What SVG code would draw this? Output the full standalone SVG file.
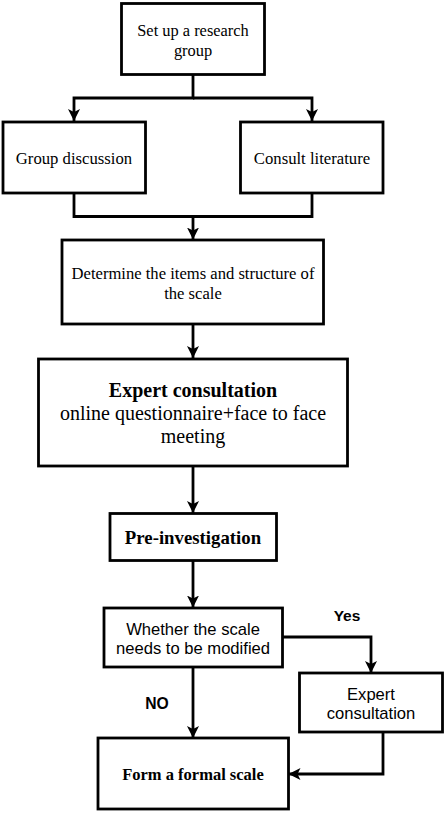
<svg xmlns="http://www.w3.org/2000/svg" width="447" height="813" viewBox="0 0 447 813">
<style>
.box{fill:#fff;stroke:#000;stroke-width:2.8}
.ln{fill:none;stroke:#000;stroke-width:2.8}
.serif{font-family:"Liberation Serif","Times New Roman",serif;fill:#000;text-anchor:middle}
.sans{font-family:"Liberation Sans",Arial,sans-serif;fill:#000;text-anchor:middle}
</style>
<defs>
<marker id="arr" viewBox="0 0 12 12" refX="12" refY="6" markerWidth="12" markerHeight="12" markerUnits="userSpaceOnUse" orient="auto">
<path d="M0,0 L12,6 L0,12 L3,6 Z" fill="#000"/>
</marker>
</defs>
<rect width="447" height="813" fill="#fff"/>
<g id="connectors">
<path class="ln" d="M193,75 V98 H74 V121" marker-end="url(#arr)"/>
<path class="ln" d="M193,98 H312 V121" marker-end="url(#arr)"/>
<path class="ln" d="M74,193 V216.5 H312 V193"/>
<path class="ln" d="M193,216.5 V239.5" marker-end="url(#arr)"/>
<path class="ln" d="M193,324 V358" marker-end="url(#arr)"/>
<path class="ln" d="M193,466 V513" marker-end="url(#arr)"/>
<path class="ln" d="M193,561 V607.5" marker-end="url(#arr)"/>
<path class="ln" d="M282,637 H371 V673" marker-end="url(#arr)"/>
<path class="ln" d="M193,667 V738" marker-end="url(#arr)"/>
<path class="ln" d="M383,732 V774 H288.5" marker-end="url(#arr)"/>
</g>
<g id="n1"><rect class="box" x="121.5" y="3.5" width="143" height="71"/>
<text class="serif" font-size="16.4"><tspan x="193" y="35.5">Set up a research</tspan><tspan x="193" y="55.5">group</tspan></text></g>
<g id="n2"><rect class="box" x="3" y="122" width="142.5" height="71"/>
<text class="serif" font-size="16.7" x="74" y="163.5">Group discussion</text></g>
<g id="n3"><rect class="box" x="240.5" y="122" width="142.5" height="71"/>
<text class="serif" font-size="16.7" x="312" y="163.5">Consult literature</text></g>
<g id="n4"><rect class="box" x="62" y="240" width="261.5" height="84"/>
<text class="serif" font-size="16.6"><tspan x="193" y="278.5">Determine the items and structure of</tspan><tspan x="193" y="298.5">the scale</tspan></text></g>
<g id="n5"><rect class="box" x="38.5" y="359" width="309" height="107"/>
<text class="serif" font-size="20"><tspan x="193" y="396.5" font-weight="bold">Expert consultation</tspan><tspan x="193" y="419.5">online questionnaire+face to face</tspan><tspan x="193" y="443">meeting</tspan></text></g>
<g id="n6"><rect class="box" x="110" y="513.5" width="166.5" height="47"/>
<text class="serif" font-size="18.8" font-weight="bold" x="193" y="543.8">Pre-investigation</text></g>
<g id="n7"><rect class="box" x="104" y="608" width="178.5" height="59"/>
<text class="sans" font-size="16.6"><tspan x="193" y="635.3">Whether the scale</tspan><tspan x="193" y="653.8">needs to be modified</tspan></text></g>
<g id="n8"><rect class="box" x="299.5" y="673" width="143" height="59"/>
<text class="sans" font-size="16.6"><tspan x="371" y="700.3">Expert</tspan><tspan x="371" y="719.3">consultation</tspan></text></g>
<g id="n9"><rect class="box" x="98" y="738" width="190.5" height="71"/>
<text class="serif" font-size="16.5" font-weight="bold" x="193" y="779.8">Form a formal scale</text></g>
<text class="sans" font-size="15.5" font-weight="bold" x="347" y="620.5">Yes</text>
<text class="sans" font-size="15.7" font-weight="bold" x="157" y="709">NO</text>
</svg>
